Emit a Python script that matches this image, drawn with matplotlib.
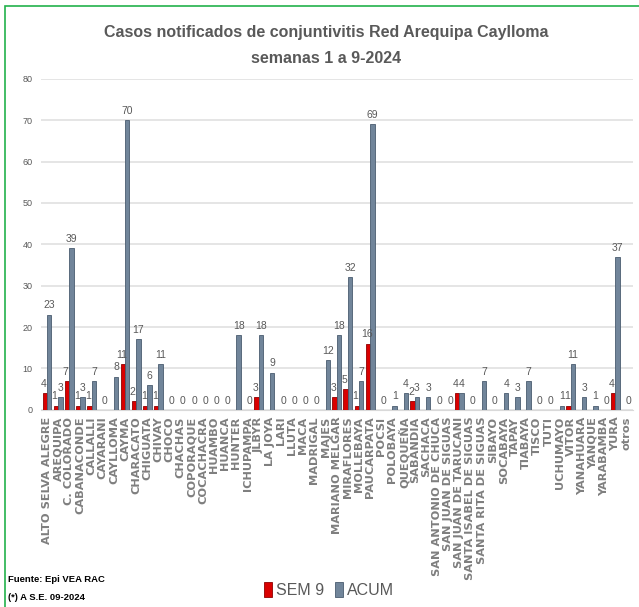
import numpy as np
import matplotlib.pyplot as plt
from matplotlib.patches import Rectangle

distritos = ["ALTO SELVA ALEGRE", "AREQUIPA", "C. COLORADO", "CABANACONDE", "CALLALLI",
             "CAYARANI", "CAYLLOMA", "CAYMA", "CHARACATO", "CHIGUATA", "CHIVAY", "CHOCO",
             "CHACHAS", "COPORAQUE", "COCACHACRA", "HUAMBO", "HUANCA", "HUNTER",
             "ICHUPAMPA", "JLBYR", "LA JOYA", "LARI", "LLUTA", "MACA", "MADRIGAL", "MAJES",
             "MARIANO MELGAR", "MIRAFLORES", "MOLLEBAYA", "PAUCARPATA", "POCSI",
             "POLOBAYA", "QUEQUEÑA", "SABANDIA", "SACHACA", "SAN ANTONIO DE CHUCA",
             "SAN JUAN DE SIGUAS", "SAN JUAN DE TARUCANI", "SANTA ISABEL DE SIGUAS",
             "SANTA RITA DE SIGUAS", "SIBAYO", "SOCABAYA", "TAPAY", "TIABAYA", "TISCO",
             "TUTI", "UCHUMAYO", "VITOR", "YANAHUARA", "YANQUE", "YARABAMBA", "YURA",
             "otros"]
n = np.nan
sem9 = [4, 1, 7, 1, 1, n, n, 11, 2, 1, 1, n, n, n, n, n, n, n, n, 3, n, n, n, n, n, n,
        3, 5, 1, 16, n, n, n, 2, n, n, n, 4, n, n, n, n, n, n, n, n, n, 1, n, n, n, 4, n]
acum = [23, 3, 39, 3, 7, 0, 8, 70, 17, 6, 11, 0, 0, 0, 0, 0, 0, 18, 0, 18, 9, 0, 0, 0,
        0, 12, 18, 32, 7, 69, 0, 1, 4, 3, 3, 0, 0, 4, 0, 7, 0, 4, 3, 7, 0, 0, 1, 11, 3,
        1, 0, 37, 0]

letra = ["Liberation Sans", "DejaVu Sans"]
gris = "#595959"

fig = plt.figure(figsize=(6.39, 6.07), dpi=100)
ax = fig.add_axes([0.064, 0.325, 0.926, 0.545])

x = np.arange(len(distritos))
w = 0.4
b1 = ax.bar(x - w / 2, sem9, w, color="#d90000", edgecolor="#900000", linewidth=0.6,
            label="SEM 9", zorder=3)
b2 = ax.bar(x + w / 2, acum, w, color="#71859a", edgecolor="#4a5c6f", linewidth=0.6,
            label="ACUM", zorder=3)

for xi, v in zip(x, sem9):
    if not np.isnan(v):
        ax.annotate(str(int(v)), (xi - w / 2, v), xytext=(-1, 3), textcoords="offset points",
                    ha="center", va="bottom", fontsize=7.5, color=gris, family=letra)
for xi, v in zip(x, acum):
    ax.annotate(str(int(v)), (xi + w / 2, v), xytext=(0, 3), textcoords="offset points",
                ha="center", va="bottom", fontsize=7.5, color=gris, family=letra)

ax.set_xlim(-0.55, len(distritos) - 0.45)
ax.set_ylim(0, 80)
ax.set_yticks(range(0, 81, 10))
ax.yaxis.grid(True, color="#e0e0e0", linewidth=1.2, zorder=0)
ax.set_axisbelow(True)
for s in ["top", "right", "left"]:
    ax.spines[s].set_visible(False)
ax.spines["bottom"].set_color("#d9d9d9")
ax.tick_params(axis="both", length=0)
ax.tick_params(axis="y", labelsize=6.5, labelcolor=gris, pad=6)
for t in ax.get_yticklabels():
    t.set_family(letra)
ax.set_xticks(x)
ax.set_xticklabels(distritos, rotation=90, fontsize=8.2, color="#7f7f7f",
                   fontweight="bold", family="DejaVu Sans")
ax.tick_params(axis="x", pad=5)

fig.text(0.51, 0.947, "Casos notificados de conjuntivitis Red Arequipa Caylloma",
         ha="center", va="center", fontsize=11.5, fontweight="bold", color=gris, family=letra)
fig.text(0.51, 0.903, "semanas 1 a 9-2024", ha="center", va="center", fontsize=11.5,
         fontweight="bold", color=gris, family=letra)

fig.legend(handles=[b1, b2], loc="center", bbox_to_anchor=(0.515, 0.028), ncol=2,
           frameon=False, labelcolor=gris, handlelength=0.5,
           handleheight=1.1, handletextpad=0.25, columnspacing=0.7,
           prop={"family": letra, "size": 11.5})

fig.text(0.012, 0.045, "Fuente: Epi VEA RAC", ha="left", va="center", fontsize=6.8,
         fontweight="bold", color="black", family=letra)
fig.text(0.012, 0.015, "(*) A S.E. 09-2024", ha="left", va="center", fontsize=6.8,
         fontweight="bold", color="black", family=letra)

# marco verde
fig.add_artist(Rectangle((0.008, -0.01), 1.5, 1.0, transform=fig.transFigure,
                         fill=False, edgecolor="#22b24c", linewidth=1.2))

fig.savefig("out.png", dpi=100)
